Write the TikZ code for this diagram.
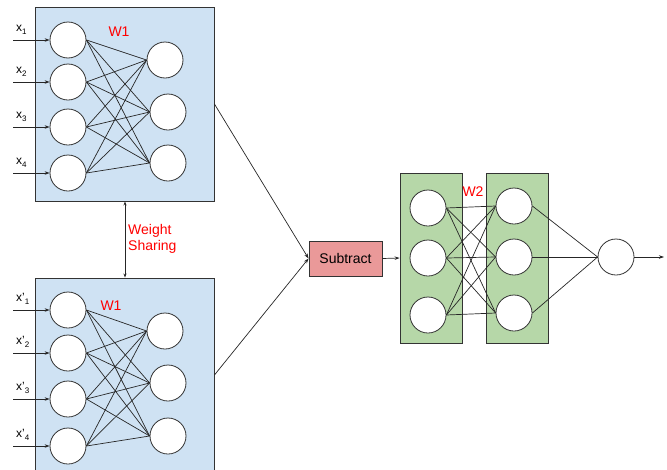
\documentclass[tikz,border=0pt]{standalone}
\usepackage{fontspec}
\setmainfont{Liberation Sans}
\usetikzlibrary{arrows.meta}
\definecolor{bluefill}{HTML}{CFE2F3}
\definecolor{greenfill}{HTML}{B6D7A8}
\definecolor{pinkfill}{HTML}{EA9999}
\definecolor{boxline}{HTML}{333333}
\definecolor{redtext}{HTML}{FF0000}
\tikzset{
  neuron/.style={circle, draw=black!80, line width=0.8pt, fill=white, minimum size=36pt, inner sep=0pt},
  bluebox/.style={draw=boxline, line width=0.9pt, fill=bluefill, minimum width=179pt, inner sep=0pt},
  greenbox/.style={draw=boxline, line width=0.9pt, fill=greenfill, minimum width=62pt, minimum height=170pt, inner sep=0pt},
  subbox/.style={draw=boxline, line width=0.9pt, fill=pinkfill, minimum width=73pt, minimum height=35pt, inner sep=0pt, font=\fontsize{14}{16}\selectfont},
  conn/.style={draw=black!85, line width=0.7pt},
  arr/.style={conn, -{Stealth[length=5pt,width=3.5pt]}},
  redlabel/.style={text=redtext, font=\fontsize{14}{16}\selectfont, inner sep=0pt},
  inlabel/.style={font=\fontsize{12}{14}\selectfont, inner sep=0pt, anchor=south west},
}
\newcommand{\sub}[1]{\raisebox{-3pt}{\fontsize{8}{8}\selectfont #1}}
\begin{document}
\begin{tikzpicture}[x=1pt,y=-1pt]
\useasboundingbox (0,0) rectangle (667,469);
% boxes
\node[bluebox, minimum height=194pt] (top) at (124.5,104) {};
\node[bluebox, minimum height=194pt] (bot) at (124.5,375) {};
\node[greenbox] (gb1) at (431,258) {};
\node[greenbox] (gb2) at (517,258) {};
\node[subbox] (sub) at (345.5,258.5) {Subtract};
% top network
\node[neuron] (a1) at (68,40) {};
\node[neuron] (a2) at (68,82) {};
\node[neuron] (a3) at (68,127) {};
\node[neuron] (a4) at (68,173) {};
\node[neuron] (b1) at (165,60) {};
\node[neuron] (b2) at (168,112) {};
\node[neuron] (b3) at (168,163) {};
% bottom network
\node[neuron] (c1) at (68,310) {};
\node[neuron] (c2) at (68,353) {};
\node[neuron] (c3) at (68,399) {};
\node[neuron] (c4) at (68,446) {};
\node[neuron] (d1) at (165,331) {};
\node[neuron] (d2) at (168,383) {};
\node[neuron] (d3) at (168,436) {};
% green networks
\node[neuron] (g1) at (428,208) {};
\node[neuron] (g2) at (428,258) {};
\node[neuron] (g3) at (428,315) {};
\node[neuron] (h1) at (514,206) {};
\node[neuron] (h2) at (514,257) {};
\node[neuron] (h3) at (514,313) {};
\node[neuron] (o) at (616,257) {};
\coordinate (out) at (664,257);
% fully connected edges
\foreach \i in {1,...,4}{
  \foreach \j in {1,2,3}{
    \draw[conn] (a\i.east) -- (b\j.west);
    \draw[conn] (c\i.east) -- (d\j.west);
  }
}
\foreach \i in {1,2,3}{
  \foreach \j in {1,2,3}{
    \draw[conn] (g\i.east) -- (h\j.west);
  }
  \draw[conn] (h\i.east) -- (o.west);
}
\draw[arr] (o.east) -- (out);
% inputs
\foreach \y/\n [count=\k] in {40/1,82/2,127/3,173/4}{
  \coordinate (ia\k) at (13,\y);
  \draw[arr] (ia\k) -- (a\k.west);
  \node[inlabel] (la\k) at (16,\y-5) {x\sub{\n}};
}
\foreach \y/\n [count=\k] in {310/1,353/2,399/3,446/4}{
  \coordinate (ic\k) at (13,\y);
  \draw[arr] (ic\k) -- (c\k.west);
  \node[inlabel] (lc\k) at (16,\y-5) {x'\sub{\n}};
}
% labels
\node[redlabel] (w1a) at (119,32) {W1};
\node[redlabel] (w1b) at (111,306) {W1};
\node[redlabel] (w2) at (473,192) {W2};
\node[redlabel, anchor=west, align=left] (ws) at (128,239) {Weight\\Sharing};
% connectors
\draw[conn, {Stealth[length=4pt,width=3pt]}-{Stealth[length=4pt,width=3pt]}] (top.south -| 125,0) -- (bot.north -| 125,0);
\draw[arr] (top.east) -- (sub.west);
\draw[arr] (bot.east) -- (sub.west);
\draw[arr] (sub.east) -- (gb1.west);
\end{tikzpicture}
\end{document}
